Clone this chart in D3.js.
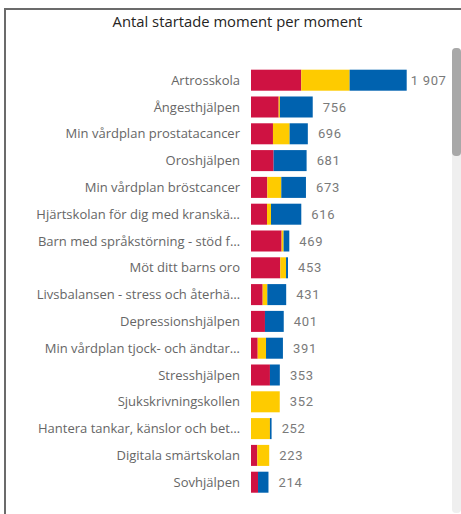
<!DOCTYPE html>
<html>
<head>
<meta charset="utf-8">
<script src="https://cdn.jsdelivr.net/npm/d3@7"></script>
<style>
  body { margin: 0; background: #fff; }
  svg { display: block; }
</style>
</head>
<body>
<svg id="chart"></svg>
<script>
// Antal startade moment per moment — stacked horizontal bars

const categories = [
  "Artrosskola", "Ångesthjälpen", "Min vårdplan prostatacancer", "Oroshjälpen",
  "Min vårdplan bröstcancer", "Hjärtskolan för dig med kranskä…",
  "Barn med språkstörning - stöd f…", "Möt ditt barns oro",
  "Livsbalansen - stress och återhä…", "Depressionshjälpen",
  "Min vårdplan tjock- och ändtar…", "Stresshjälpen", "Sjukskrivningskollen",
  "Hantera tankar, känslor och bet…", "Digitala smärtskolan", "Sovhjälpen"
];
const redVals    = [615, 339, 269, 277, 200, 196, 375, 359, 143, 171, 82, 232, 0, 0, 77, 86];
const yellowVals = [593, 15, 204, 0, 171, 49, 24, 70, 57, 0, 102, 0, 352, 232, 146, 0];
const blueVals   = [699, 402, 223, 404, 302, 371, 70, 24, 231, 230, 207, 121, 0, 20, 0, 128];
const totals     = [1907, 756, 696, 681, 673, 616, 469, 453, 431, 401, 391, 353, 352, 252, 223, 214];

const RED = "#cf1242", YELLOW = "#fecb00", BLUE = "#0062af";

const W = 461, H = 514;
const svg = d3.select("#chart").attr("width", W).attr("height", H);

// frame
svg.append("line").attr("x1", 5).attr("x2", 5).attr("y1", 9).attr("y2", H)
  .attr("stroke", "#6b6b6b").attr("stroke-width", 2);
svg.append("line").attr("x1", 4).attr("x2", W).attr("y1", 9).attr("y2", 9)
  .attr("stroke", "#6b6b6b").attr("stroke-width", 2);

// scrollbar
svg.append("rect").attr("x", 452).attr("y", 48).attr("width", 9).attr("height", 465)
  .attr("rx", 4).attr("fill", "#efefef");
svg.append("rect").attr("x", 452).attr("y", 48).attr("width", 9).attr("height", 108)
  .attr("rx", 4).attr("fill", "#a8a8a8");

svg.append("text")
  .attr("x", 237.5).attr("y", 27)
  .attr("text-anchor", "middle")
  .attr("font-family", "'Open Sans', 'Noto Sans', sans-serif")
  .attr("font-size", 14.8)
  .attr("fill", "#252423")
  .text("Antal startade moment per moment");

const rows = categories.map((c, i) => ({
  name: c, red: redVals[i], yellow: yellowVals[i], blue: blueVals[i], total: totals[i]
}));

const x = d3.scaleLinear().domain([0, 1907]).range([251, 406.7]);
const y = d3.scaleBand().domain(categories).range([63.9, 498.5])
  .paddingInner(0.216).paddingOuter(0.216);

const stack = d3.stack().keys(["red", "yellow", "blue"])(rows);
const colors = { red: RED, yellow: YELLOW, blue: BLUE };

svg.append("g").selectAll("g").data(stack).join("g")
  .attr("fill", s => colors[s.key])
  .selectAll("rect").data(s => s).join("rect")
  .attr("x", d => x(d[0]))
  .attr("width", d => Math.max(0, x(d[1]) - x(d[0])))
  .attr("y", d => y(d.data.name))
  .attr("height", y.bandwidth());

// category labels
svg.append("g").selectAll("text").data(rows).join("text")
  .attr("x", 240)
  .attr("y", d => y(d.name) + y.bandwidth() / 2)
  .attr("dy", "0.35em")
  .attr("text-anchor", "end")
  .attr("font-family", "'Open Sans', 'Noto Sans', sans-serif")
  .attr("font-size", 13)
  .attr("fill", "#666666")
  .text(d => d.name);

// value labels
const fmt = v => v >= 1000 ? d3.format(",")(v).replace(",", " ") : String(v);
svg.append("g").selectAll("text").data(rows).join("text")
  .attr("x", d => x(d.total) + 22)
  .attr("y", d => y(d.name) + y.bandwidth() / 2)
  .attr("dy", "0.36em")
  .attr("text-anchor", "middle")
  .attr("font-family", "Roboto, 'DejaVu Sans Condensed', sans-serif")
  .attr("font-size", 13)
  .attr("font-weight", 400)
  .attr("letter-spacing", "0.05em")
  .attr("fill", "#7a7a7a")
  .text(d => fmt(d.total));
</script>
</body>
</html>
